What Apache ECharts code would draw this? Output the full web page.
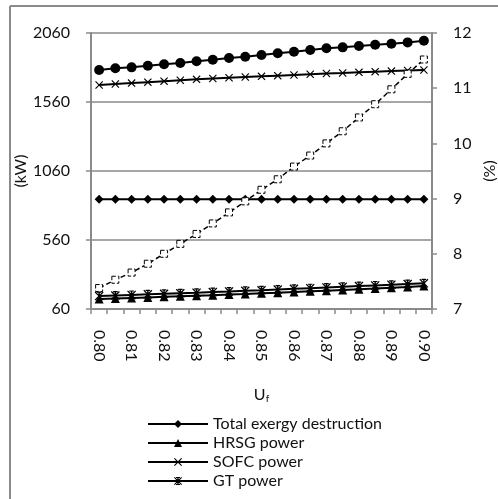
<!DOCTYPE html>
<html>
<head>
<meta charset="utf-8">
<script src="https://cdn.jsdelivr.net/npm/echarts@6/dist/echarts.min.js"></script>
<style>
  html, body { margin: 0; padding: 0; background: #fff; }
  #main { width: 498px; height: 499px; }
</style>
</head>
<body>
<div id="main"></div>
<script>
// fuel utilisation factor
var uf = ['0.80', '0.805', '0.81', '0.815', '0.82', '0.825', '0.83', '0.835', '0.84', '0.845', '0.85',
          '0.855', '0.86', '0.865', '0.87', '0.875', '0.88', '0.885', '0.89', '0.895', '0.90'];

// kW (left axis)
var circleSeries = [1792, 1804, 1811, 1823, 1833, 1843, 1855, 1866, 1879, 1888, 1900,
                    1913, 1924, 1937, 1949, 1956, 1966, 1975, 1982, 1992, 2004];
var totalExergyDestruction = [855, 855, 855, 855, 855, 855, 855, 855, 855, 855, 855,
                              855, 855, 855, 855, 855, 855, 855, 855, 855, 855];
var hrsgPower = [132, 136, 140, 144, 148, 152, 156, 160, 165, 169, 174,
                 178, 183, 188, 193, 198, 203, 208, 214, 220, 227];
var sofcPower = [1683, 1690, 1697, 1704, 1711, 1718, 1724, 1730, 1736, 1741, 1746,
                 1751, 1756, 1761, 1766, 1770, 1775, 1780, 1784, 1788, 1792];
var gtPower = [154, 158, 162, 166, 170, 174, 178, 183, 187, 192, 196,
               201, 206, 211, 216, 221, 226, 231, 236, 241, 246];

// % (right axis)
var percentSeries = [7.38, 7.53, 7.66, 7.82, 8.00, 8.18, 8.36, 8.55, 8.75, 8.95, 9.16,
                     9.35, 9.58, 9.78, 10.00, 10.22, 10.47, 10.71, 10.98, 11.26, 11.52];

var legendNames = ['Total exergy destruction', 'HRSG power', 'SOFC power', 'GT power'];

var FONT = 'Lato';
var GREY = '#8a8a8a';
var INK = '#111';

var diamond = 'path://M5,0L10,5L5,10L0,5Z';
var cross = 'path://M0,1L1,0L5,4L9,0L10,1L6,5L10,9L9,10L5,6L1,10L0,9L4,5Z';
var star = 'path://M0,1L1,0L5,4L9,0L10,1L6,5L10,9L9,10L5,6L1,10L0,9L4,5Z M4.2,0L5.8,0L5.8,10L4.2,10Z M2.5,0L7.5,0L7.5,1.3L2.5,1.3Z M2.5,8.7L7.5,8.7L7.5,10L2.5,10Z';

function lineSeries(name, data, symbol, size, yIdx) {
    return {
        name: name,
        type: 'line',
        yAxisIndex: yIdx || 0,
        data: data,
        symbol: symbol,
        symbolSize: size,
        showAllSymbol: true,
        lineStyle: {color: '#000', width: 2},
        itemStyle: {color: '#000'},
        emphasis: {disabled: true}
    };
}

var myChart = echarts.init(document.getElementById('main'));
var option = {
    backgroundColor: '#fff',
    animation: false,
    textStyle: {fontFamily: FONT},
    graphic: [
        {type: 'line', shape: {x1: 10, y1: 6, x2: 10, y2: 499}, style: {stroke: GREY, lineWidth: 2}},
        {type: 'line', shape: {x1: 10, y1: 6, x2: 498, y2: 6}, style: {stroke: GREY, lineWidth: 2}}
    ],
    grid: {left: 91, right: 66, top: 33, bottom: 190, outerBoundsMode: 'none'},
    legend: {
        data: legendNames,
        orient: 'vertical',
        left: 142,
        top: 411,
        itemWidth: 60,
        itemHeight: 10,
        itemGap: 3,
        textStyle: {fontFamily: FONT, fontSize: 16, lineHeight: 16, color: INK}
    },
    xAxis: {
        type: 'category',
        data: uf,
        boundaryGap: true,
        name: 'U{sub|f}',
        nameLocation: 'middle',
        nameGap: 77,
        nameTextStyle: {
            fontFamily: FONT, fontSize: 16, color: INK,
            rich: {sub: {fontSize: 10, verticalAlign: 'bottom', padding: [8, 0, 0, 0], fontFamily: FONT, color: INK}}
        },
        axisLine: {lineStyle: {color: GREY, width: 2}},
        axisTick: {show: true, interval: 0, length: 5, lineStyle: {color: GREY, width: 1.5}},
        axisLabel: {
            interval: 1,
            rotate: -90,
            margin: 21,
            fontFamily: FONT,
            fontSize: 16,
            color: INK,
            formatter: function (v) { return Number(v).toFixed(2); }
        },
        splitLine: {show: false}
    },
    yAxis: [{
        type: 'value',
        min: 60,
        max: 2060,
        interval: 500,
        name: '(kW)',
        nameLocation: 'middle',
        nameRotate: 90,
        nameGap: 62,
        nameMoveOverlap: false,
        nameTextStyle: {fontFamily: FONT, fontSize: 16, color: INK},
        axisLine: {show: true, lineStyle: {color: GREY, width: 2}},
        axisTick: {show: true, length: 5, lineStyle: {color: GREY, width: 1.5}},
        axisLabel: {margin: 21, fontFamily: FONT, fontSize: 16, color: INK, formatter: function (v) { return String(v); }},
        splitLine: {show: true, lineStyle: {color: GREY, width: 1.5}}
    }, {
        type: 'value',
        min: 7,
        max: 12,
        interval: 1,
        name: '(%)',
        nameLocation: 'middle',
        nameRotate: 90,
        nameGap: 50,
        nameMoveOverlap: false,
        nameTextStyle: {fontFamily: FONT, fontSize: 16, color: INK},
        axisLine: {show: true, lineStyle: {color: GREY, width: 2}},
        axisTick: {show: true, length: 5, lineStyle: {color: GREY, width: 1.5}},
        axisLabel: {margin: 21, fontFamily: FONT, fontSize: 16, color: INK},
        splitLine: {show: false}
    }],
    series: [
        lineSeries('Circle series', circleSeries, 'circle', 10),
        lineSeries('SOFC power', sofcPower, cross, 8),
        lineSeries('Total exergy destruction', totalExergyDestruction, diamond, 9),
        {
            name: 'Percent series',
            type: 'line',
            yAxisIndex: 1,
            data: percentSeries,
            symbol: 'rect',
            symbolSize: 7,
            showAllSymbol: true,
            lineStyle: {color: '#000', width: 1.5, type: [5, 3]},
            itemStyle: {color: '#fff', borderColor: '#000', borderWidth: 1, borderType: 'dashed'},
            emphasis: {disabled: true}
        },
        lineSeries('HRSG power', hrsgPower, 'triangle', 9),
        lineSeries('GT power', gtPower, star, 9)
    ]
};

myChart.setOption(option);
</script>
</body>
</html>
